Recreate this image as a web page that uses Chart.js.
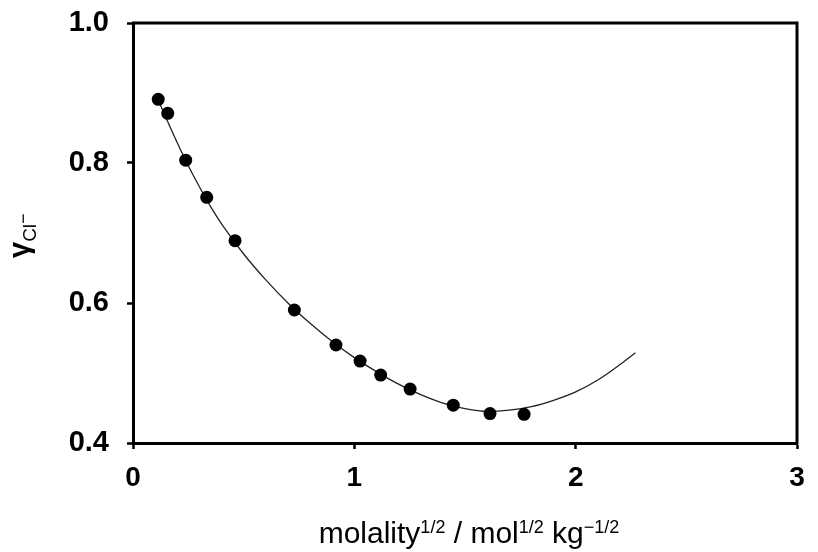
<!DOCTYPE html>
<html>
<head>
<meta charset="utf-8">
<script src="https://cdn.jsdelivr.net/npm/chart.js@4/dist/chart.umd.min.js"></script>
<style>
  html, body { margin: 0; padding: 0; background: #fff; }
  #wrap { width: 818px; height: 552px; }
</style>
</head>
<body>
<div id="wrap"><canvas id="chart" width="818" height="552"></canvas></div>
<script>
// measured activity coefficients (sqrt molality vs gamma)
const xVals = [0.114, 0.157, 0.238, 0.333, 0.461, 0.729, 0.917, 1.026, 1.119, 1.252, 1.447, 1.613, 1.767];
const yVals = [0.891, 0.871, 0.804, 0.751, 0.689, 0.590, 0.540, 0.517, 0.497, 0.477, 0.454, 0.442, 0.441];

// fitted curve
const curveX = [0.11, 0.15, 0.2, 0.25, 0.3, 0.35, 0.4, 0.5, 0.6, 0.7, 0.8, 0.9, 1.0, 1.1, 1.2, 1.3, 1.4, 1.5, 1.6, 1.7, 1.8, 1.9, 2.0, 2.1, 2.2, 2.27];
const curveY = [0.893, 0.864, 0.829, 0.796, 0.766, 0.738, 0.713, 0.670, 0.633, 0.600, 0.571, 0.545, 0.522, 0.502, 0.484, 0.469, 0.457, 0.449, 0.445, 0.447, 0.452, 0.461, 0.473, 0.490, 0.512, 0.529];

const xTicks = [0, 1, 2, 3];
const yTicks = [0.4, 0.6, 0.8, 1.0];

const FONT = "'Liberation Sans', Arial, sans-serif";

// frame (top/right) and the axis titles with sub/superscripts
const extras = {
    id: 'extras',
    afterDraw(chart) {
        const ctx = chart.ctx;
        const a = chart.chartArea;
        ctx.save();
        ctx.strokeStyle = '#000';
        ctx.lineWidth = 3;
        ctx.beginPath();
        ctx.moveTo(a.left - 1, a.top);
        ctx.lineTo(a.right, a.top);
        ctx.lineTo(a.right, a.bottom + 1);
        ctx.stroke();

        // x title
        const main = '30px ' + FONT, sup = '18px ' + FONT;
        const parts = [
            ['molality', main, 0], ['1/2', sup, -10], [' / mol', main, 0],
            ['1/2', sup, -10], [' kg', main, 0], ['\u22121/2', sup, -10]
        ];
        let w = 0;
        parts.forEach(p => { ctx.font = p[1]; w += ctx.measureText(p[0]).width; });
        let x = 469 - w / 2;
        ctx.fillStyle = '#000';
        ctx.textBaseline = 'alphabetic';
        ctx.textAlign = 'left';
        parts.forEach(p => {
            ctx.font = p[1];
            ctx.fillText(p[0], x, 543 + p[2]);
            x += ctx.measureText(p[0]).width;
        });

        // y title, rotated
        ctx.translate(29, 258);
        ctx.rotate(-Math.PI / 2);
        let u = 0;
        ctx.font = 'bold 29px ' + FONT;
        ctx.fillText('\u03b3', u, 0);
        u += ctx.measureText('\u03b3').width;
        ctx.font = '19px ' + FONT;
        ctx.fillText('Cl', u, 7);
        u += ctx.measureText('Cl').width;
        ctx.font = '18px ' + FONT;
        ctx.fillText('\u2212', u, 0);
        ctx.restore();
    }
};

new Chart(document.getElementById('chart'), {
    type: 'scatter',
    data: {
        datasets: [{
            label: 'data',
            data: xVals.map((v, i) => ({ x: v, y: yVals[i] })),
            pointRadius: 6.5,
            pointBackgroundColor: '#000',
            pointBorderColor: '#000',
            pointBorderWidth: 0,
            showLine: false
        }, {
            label: 'fit',
            data: curveX.map((v, i) => ({ x: v, y: curveY[i] })),
            showLine: true,
            pointRadius: 0,
            borderColor: '#222',
            borderWidth: 1.3,
            cubicInterpolationMode: 'monotone'
        }]
    },
    options: {
        responsive: false,
        animation: false,
        devicePixelRatio: 1,
        layout: { padding: { top: 23, right: 21, left: 0, bottom: 0 }, autoPadding: false },
        plugins: { legend: { display: false }, tooltip: { enabled: false } },
        scales: {
            x: {
                type: 'linear', min: 0, max: 3,
                afterBuildTicks: s => { s.ticks = xTicks.map(v => ({ value: v })); },
                afterFit: s => { s.height = 109; s.paddingLeft = 0; s.paddingRight = 0; },
                ticks: {
                    color: '#000', padding: 12,
                    font: { family: FONT, size: 28, weight: 'bold' },
                    callback: v => String(v)
                },
                grid: { drawOnChartArea: false, tickLength: 6, tickWidth: 2.5, tickColor: '#000' },
                border: { color: '#000', width: 3 }
            },
            y: {
                type: 'linear', min: 0.4, max: 1.0,
                afterBuildTicks: s => { s.ticks = yTicks.map(v => ({ value: v })); },
                afterFit: s => { s.width = 133; s.paddingTop = 0; s.paddingBottom = 0; },
                ticks: {
                    color: '#000', padding: 18,
                    font: { family: FONT, size: 29, weight: 'bold' },
                    callback: v => Number(v).toFixed(1)
                },
                grid: { drawOnChartArea: false, tickLength: 6, tickWidth: 2.5, tickColor: '#000' },
                border: { color: '#000', width: 3 }
            }
        }
    },
    plugins: [extras]
});
</script>
</body>
</html>
